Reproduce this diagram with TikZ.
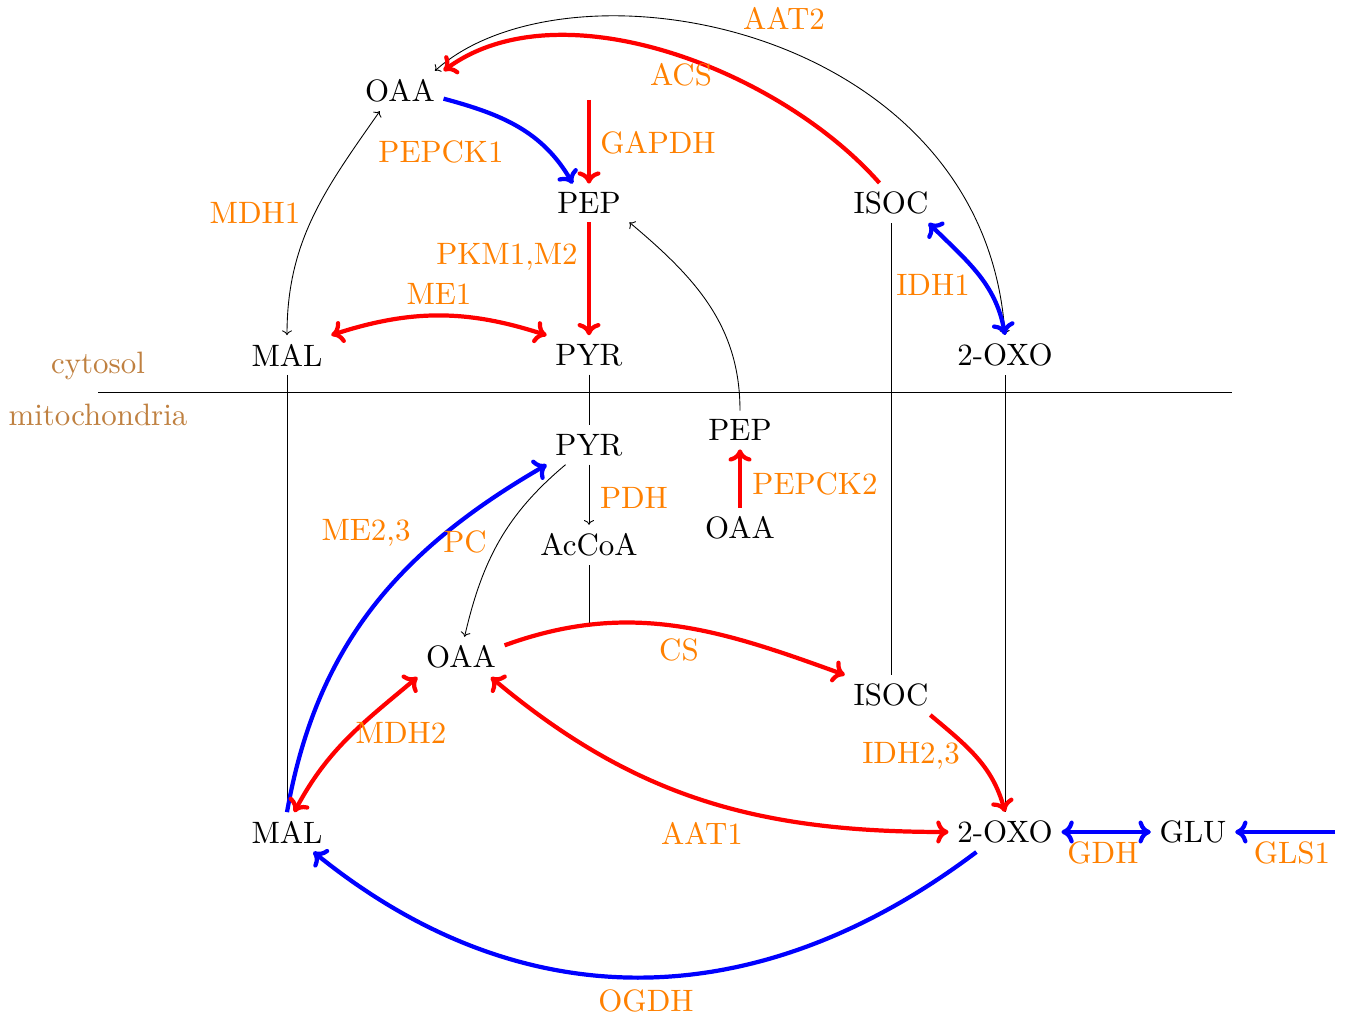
\documentclass[tikz,border=0pt]{standalone}
\usepackage{graphicx}
\usetikzlibrary{arrows.meta}
\newcommand{\bigtxt}[1]{\scalebox{1.76}{#1}}
\begin{document}
\begin{tikzpicture}[x=0.02cm,y=-0.02cm,
  met/.style={inner sep=5pt, outer sep=0pt},
  lab/.style={text=orange, inner sep=0pt},
  loc/.style={text=brown, inner sep=0pt},
  thinl/.style={line width=0.5pt},
  rd/.style={draw=red, line width=2.4pt, >={Computer Modern Rightarrow[length=7pt,width=13pt]}},
  bl/.style={draw=blue, line width=2.4pt, >={Computer Modern Rightarrow[length=7pt,width=13pt]}}]
\useasboundingbox (0,0) rectangle (1347,1020);
% metabolites
\node[met] (oaac) at (400,91) {\bigtxt{OAA}};
\node[met] (pepc) at (589,203) {\bigtxt{PEP}};
\node[met] (isocc) at (891,203) {\bigtxt{ISOC}};
\node[met] (malc) at (287,355) {\bigtxt{MAL}};
\node[met] (pyrc) at (589,355) {\bigtxt{PYR}};
\node[met] (oxoc) at (1005,355) {\bigtxt{2-OXO}};
\node[met] (pyrm) at (589,445) {\bigtxt{PYR}};
\node[met] (pepm) at (740,430) {\bigtxt{PEP}};
\node[met] (oaap) at (740,528) {\bigtxt{OAA}};
\node[met] (accoa) at (589,545) {\bigtxt{AcCoA}};
\node[met] (oaam) at (461,657) {\bigtxt{OAA}};
\node[met] (isocm) at (891,695) {\bigtxt{ISOC}};
\node[met] (malm) at (287,832) {\bigtxt{MAL}};
\node[met] (oxom) at (1005,832) {\bigtxt{2-OXO}};
\node[met] (glu) at (1193,832) {\bigtxt{GLU}};
% free ends
\coordinate (gstart) at (589,100);
\coordinate (glsstart) at (1335,832);
\coordinate (memL) at (98,392);
\coordinate (memR) at (1232,392);
\coordinate (csjoin) at (589,625);
% compartments
\draw[thinl] (memL) -- (memR);
\node[loc] (cyt) at (98,366) {\bigtxt{cytosol}};
\node[loc] (mito) at (98,415) {\bigtxt{mitochondria}};
% cytosol reactions
\draw[thinl,<->] (oaac.30) .. controls (570,-50) and (985,25) .. (oxoc.north);
\draw[rd,->] (isocc.120) .. controls (780,70) and (560,-15) .. (oaac.north east);
\draw[rd,->] (gstart) -- (pepc);
\draw[rd,->] (pepc) -- (pyrc);
\draw[bl,->] (oaac.-10) to[out=-15,in=120] (pepc.130);
\draw[rd,<->] (malc.north east) to[bend left=18] (pyrc.north west);
\draw[thinl,<->] (oaac.225) to[out=235,in=90] (malc.north);
\draw[bl,<->] (isocc.-28) to[out=-45,in=100] (oxoc.north);
\draw[thinl,->] (pepm.north) to[out=90,in=-40] (pepc.south east);
% transport lines
\draw[thinl] (malc) -- (malm);
\draw[thinl] (pyrc) -- (pyrm);
\draw[thinl] (isocc) -- (isocm);
\draw[thinl] (oxoc) -- (oxom);
\draw[thinl] (accoa) -- (csjoin);
% mitochondria reactions
\draw[rd,->] (oaap) -- (pepm);
\draw[thinl,->] (pyrm) -- (accoa);
\draw[thinl,->] (pyrm.-140) to[out=-140,in=77] (oaam.80);
\draw[bl,->] (malm.north) to[out=80,in=-150] (pyrm.south west);
\draw[rd,<->] (malm.70) to[out=62,in=-140] (oaam.south west);
\draw[rd,<->] (oaam.-34) to[out=-40,in=180] (oxom.west);
\draw[rd,->] (oaam.15) to[out=20,in=160] (isocm.north west);
\draw[rd,->] (isocm.-27) to[out=-40,in=105] (oxom.north);
\draw[bl,->] (oxom.-145) to[out=-143,in=-39,looseness=1.05] (malm.-37);
\draw[bl,<->] (oxom) -- (glu);
\draw[bl,->] (glsstart) -- (glu);
% enzyme labels
\node[lab] (l-aat2) at (784,18) {\bigtxt{AAT2}};
\node[lab] (l-acs) at (681,75) {\bigtxt{ACS}};
\node[lab] (l-gapdh) at (658,143) {\bigtxt{GAPDH}};
\node[lab] (l-pepck1) at (441,152) {\bigtxt{PEPCK1}};
\node[lab] (l-mdh1) at (255,213) {\bigtxt{MDH1}};
\node[lab] (l-pkm) at (507,257) {\bigtxt{PKM1,M2}};
\node[lab] (l-me1) at (439,294) {\bigtxt{ME1}};
\node[lab] (l-idh1) at (933,285) {\bigtxt{IDH1}};
\node[lab] (l-pdh) at (634,498) {\bigtxt{PDH}};
\node[lab] (l-pepck2) at (815,484) {\bigtxt{PEPCK2}};
\node[lab] (l-me23) at (366,533) {\bigtxt{ME2,3}};
\node[lab] (l-pc) at (465,542) {\bigtxt{PC}};
\node[lab] (l-cs) at (679,650) {\bigtxt{CS}};
\node[lab] (l-mdh2) at (401,733) {\bigtxt{MDH2}};
\node[lab] (l-idh23) at (911,756) {\bigtxt{IDH2,3}};
\node[lab] (l-aat1) at (702,833) {\bigtxt{AAT1}};
\node[lab] (l-gdh) at (1103,853) {\bigtxt{GDH}};
\node[lab] (l-gls1) at (1292,853) {\bigtxt{GLS1}};
\node[lab] (l-ogdh) at (646,1001) {\bigtxt{OGDH}};
\end{tikzpicture}
\end{document}
